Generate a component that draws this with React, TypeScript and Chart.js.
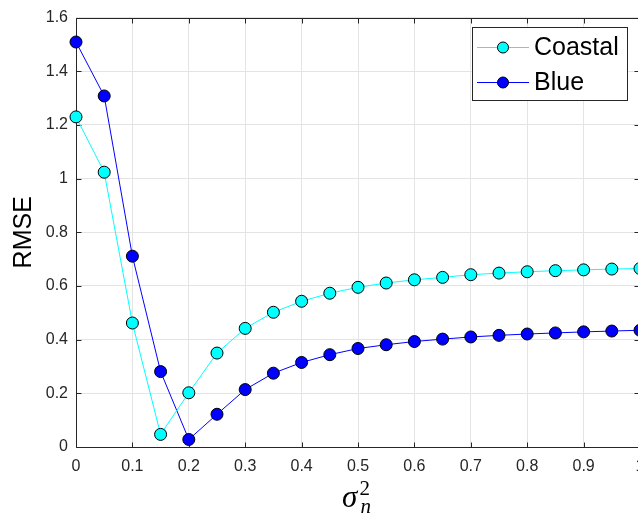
import React, { useEffect, useRef } from 'react';
import { Chart, registerables } from 'chart.js';

Chart.register(...registerables);

const xValues = [0, 0.05, 0.1, 0.15, 0.2, 0.25, 0.3, 0.35, 0.4, 0.45, 0.5, 0.55, 0.6, 0.65, 0.7, 0.75, 0.8, 0.85, 0.9, 0.95, 1];
const coastal = [1.23, 1.024, 0.462, 0.047, 0.202, 0.35, 0.442, 0.502, 0.543, 0.573, 0.595, 0.611, 0.623, 0.632, 0.642, 0.648, 0.653, 0.657, 0.66, 0.663, 0.665];
const blue = [1.509, 1.308, 0.711, 0.281, 0.028, 0.122, 0.214, 0.275, 0.315, 0.344, 0.367, 0.381, 0.393, 0.402, 0.41, 0.416, 0.421, 0.425, 0.429, 0.432, 0.435];
const seriesNames = ['Coastal', 'Blue'];
const seriesColors = ['#00ffff', '#0000ff'];
const xTickLabels = ['0', '0.1', '0.2', '0.3', '0.4', '0.5', '0.6', '0.7', '0.8', '0.9', '1'];
const yTickLabels = ['0', '0.2', '0.4', '0.6', '0.8', '1', '1.2', '1.4', '1.6'];
const yTitle = 'RMSE';

const AXIS = '#262626';
const SANS = "'Liberation Sans', Arial, sans-serif";
const SERIF = "'Liberation Serif', 'Times New Roman', serif";

const matlabPlugin = {
  id: 'matlabBox',
  beforeDatasetsDraw(chart: any) {
    const { ctx, chartArea: a, scales } = chart;
    ctx.save();
    ctx.strokeStyle = AXIS;
    ctx.lineWidth = 1;
    const L = Math.round(a.left) + 0.5;
    const R = Math.round(a.right) - 0.5;
    const T = Math.round(a.top) + 0.5;
    const B = Math.round(a.bottom) + 0.5;
    ctx.beginPath();
    ctx.moveTo(L, T); ctx.lineTo(R, T); ctx.lineTo(R, B); ctx.lineTo(L, B); ctx.closePath();
    ctx.stroke();
    const tl = 5;
    ctx.beginPath();
    scales.x.ticks.forEach((t: any) => {
      const px = Math.round(scales.x.getPixelForValue(t.value)) + 0.5;
      ctx.moveTo(px, B); ctx.lineTo(px, B - tl);
      ctx.moveTo(px, T); ctx.lineTo(px, T + tl);
    });
    scales.y.ticks.forEach((t: any) => {
      const py = Math.round(scales.y.getPixelForValue(t.value)) + 0.5;
      ctx.moveTo(L, py); ctx.lineTo(L + tl, py);
      ctx.moveTo(R, py); ctx.lineTo(R - tl, py);
    });
    ctx.stroke();
    ctx.restore();
  },
  afterDraw(chart: any) {
    const { ctx, chartArea: a } = chart;
    ctx.save();
    // x-axis title: sigma_n^2
    const cx = (a.left + a.right) / 2 - 2;
    ctx.fillStyle = '#000';
    ctx.textBaseline = 'alphabetic';
    ctx.textAlign = 'left';
    ctx.font = `italic 31px ${SERIF}`;
    const sw = ctx.measureText('σ').width;
    ctx.font = `21px ${SERIF}`;
    const tw = ctx.measureText('2').width;
    const total = sw + 2 + tw;
    const x0 = cx - total / 2;
    ctx.font = `italic 31px ${SERIF}`;
    ctx.fillText('σ', x0, 507);
    ctx.font = `21px ${SERIF}`;
    ctx.fillText('2', x0 + sw + 2, 495);
    ctx.font = `italic 21px ${SERIF}`;
    ctx.fillText('n', x0 + sw + 3, 513);

    // legend
    const bx = 472.5, by = 27.5, bw = 155, bh = 73;
    ctx.fillStyle = '#fff';
    ctx.fillRect(bx, by, bw, bh);
    ctx.strokeStyle = AXIS;
    ctx.lineWidth = 1;
    ctx.strokeRect(bx, by, bw, bh);
    const rows = [47.5, 82.5];
    chart.data.datasets.forEach((ds: any, i: number) => {
      const y = rows[i];
      ctx.strokeStyle = ds.borderColor;
      ctx.lineWidth = 1;
      ctx.beginPath();
      ctx.moveTo(477, y); ctx.lineTo(529, y);
      ctx.stroke();
      ctx.beginPath();
      ctx.arc(503, y, 5.5, 0, Math.PI * 2);
      ctx.fillStyle = ds.pointBackgroundColor;
      ctx.fill();
      ctx.strokeStyle = '#000';
      ctx.stroke();
      ctx.fillStyle = '#000';
      ctx.font = `25px ${SANS}`;
      ctx.textBaseline = 'middle';
      ctx.fillText(ds.label, 534, y + 1);
    });
    ctx.restore();
  },
};

export default function App() {
  const ref = useRef<HTMLCanvasElement>(null);
  useEffect(() => {
    if (!ref.current) return;
    const mk = (vals: number[]) => xValues.map((x, i) => ({ x, y: vals[i] }));
    const series = [coastal, blue];
    const chart = new Chart(ref.current, {
      type: 'line',
      data: {
        datasets: series.map((vals, i) => ({
          label: seriesNames[i],
          data: mk(vals),
          borderColor: seriesColors[i],
          backgroundColor: seriesColors[i],
          pointBackgroundColor: seriesColors[i],
          pointBorderColor: '#000',
          pointBorderWidth: 1,
          pointRadius: 6,
          borderWidth: 1,
          tension: 0,
          clip: false as any,
        })),
      },
      options: {
        animation: false,
        responsive: false,
        devicePixelRatio: 1,
        layout: { padding: { top: 14, right: 40, left: 0, bottom: 0 } },
        plugins: { legend: { display: false }, tooltip: { enabled: false } },
        scales: {
          x: {
            type: 'linear',
            min: 0,
            max: 1,
            grid: { color: '#e4e4e4', drawTicks: false, lineWidth: 1 },
            border: { display: false },
            ticks: {
              stepSize: 0.1,
              autoSkip: false,
              maxRotation: 0,
              padding: 10,
              color: AXIS,
              font: { family: SANS, size: 16 },
              callback: (_v: any, i: number) => xTickLabels[i],
            },
            afterFit: (s: any) => { s.height = 69; },
          },
          y: {
            type: 'linear',
            min: 0,
            max: 1.6,
            grid: { color: '#e4e4e4', drawTicks: false, lineWidth: 1 },
            border: { display: false },
            title: {
              display: true,
              text: yTitle,
              color: '#000',
              font: { family: SANS, size: 25 },
              padding: { top: 9, bottom: 0 },
            },
            ticks: {
              stepSize: 0.2,
              padding: 8,
              color: AXIS,
              font: { family: SANS, size: 16 },
              callback: (_v: any, i: number) => yTickLabels[i],
            },
            afterFit: (s: any) => { s.width = 76; },
          },
        },
      },
      plugins: [matlabPlugin],
    });
    return () => chart.destroy();
  }, []);
  return (
    <div style={{ position: 'fixed', left: 0, top: 0, width: 680, height: 516, overflow: 'hidden', background: '#fff' }}>
      <canvas ref={ref} width={680} height={516} style={{ display: 'block' }} />
    </div>
  );
}
